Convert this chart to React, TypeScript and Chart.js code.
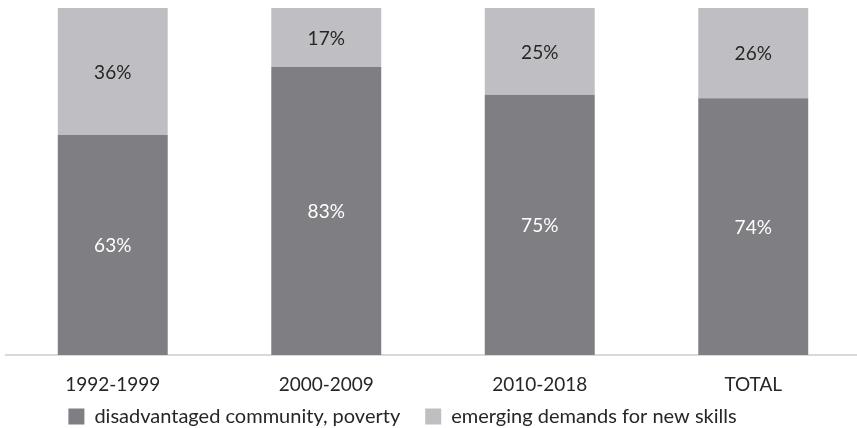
import React, { useEffect, useRef } from "react";
import { Chart, registerables } from "chart.js";

Chart.register(...registerables);

const categories = ["1992-1999", "2000-2009", "2010-2018", "TOTAL"];
const disadvantaged = [63.4, 83, 75, 74];
const emerging = [36.6, 17, 25, 26];
const seriesNames = ["disadvantaged community, poverty", "emerging demands for new skills"];

const DARK = "#7f7f83";
const LIGHT = "#bfbfc3";
const TEXT = "#262626";
const FONT = "Lato";

const valueLabels = {
  id: "valueLabels",
  afterDatasetsDraw(chart: any) {
    const ctx = chart.ctx;
    ctx.save();
    ctx.font = `19px ${FONT}`;
    ctx.textAlign = "center";
    ctx.textBaseline = "middle";
    chart.data.datasets.forEach((ds: any, di: number) => {
      const meta = chart.getDatasetMeta(di);
      ctx.fillStyle = di === 0 ? "#ffffff" : TEXT;
      meta.data.forEach((el: any, i: number) => {
        const v = ds.data[i];
        const y = (el.y + el.base) / 2;
        ctx.fillText(`${Math.floor(v)}%`, el.x, y + 1);
      });
    });
    ctx.restore();
  },
};

const customLegend = {
  id: "customLegend",
  afterDraw(chart: any) {
    const ctx = chart.ctx;
    const box = 16;
    const gap = 10;
    const itemGap = 25;
    const centerX = 402.5;
    const centerY = 416.5;
    ctx.save();
    ctx.font = `20px ${FONT}`;
    ctx.textBaseline = "middle";
    ctx.textAlign = "left";
    const items = chart.data.datasets.map((ds: any) => ({
      text: ds.label,
      color: ds.backgroundColor,
      w: ctx.measureText(ds.label).width,
    }));
    const total =
      items.reduce((s: number, it: any) => s + box + gap + it.w, 0) + itemGap * (items.length - 1);
    let x = centerX - total / 2;
    items.forEach((it: any) => {
      ctx.fillStyle = it.color;
      ctx.fillRect(x, centerY - box / 2, box, box);
      x += box + gap;
      ctx.fillStyle = TEXT;
      ctx.fillText(it.text, x, centerY);
      x += it.w + itemGap;
    });
    ctx.restore();
  },
};

export default function App() {
  const ref = useRef<HTMLCanvasElement>(null);
  useEffect(() => {
    if (!ref.current) return;
    const chart = new Chart(ref.current, {
      type: "bar",
      data: {
        labels: categories,
        datasets: [
          { label: seriesNames[0], data: disadvantaged, backgroundColor: DARK, borderWidth: 0 },
          { label: seriesNames[1], data: emerging, backgroundColor: LIGHT, borderWidth: 0 },
        ],
      },
      options: {
        responsive: false,
        animation: false,
        layout: { padding: { top: 8, left: 6, right: 0, bottom: 13 } },
        datasets: { bar: { categoryPercentage: 1, barPercentage: 0.515 } },
        plugins: {
          legend: { display: false },
          tooltip: { enabled: false },
        },
        scales: {
          x: {
            stacked: true,
            grid: { display: false, drawTicks: false },
            border: { display: true, color: "#d9d9d9", width: 2 },
            ticks: {
              padding: 18.6,
              color: TEXT,
              font: { family: FONT, size: 19, lineHeight: 1.2 },
            },
          },
          y: {
            stacked: true,
            display: false,
            min: 0,
            max: 100,
          },
        },
      },
      plugins: [valueLabels, customLegend],
    });
    return () => chart.destroy();
  }, []);
  return (
    <div style={{ position: "fixed", left: 0, top: 0, width: 857, height: 428, overflow: "hidden", background: "#fff" }}>
      <canvas ref={ref} width={860} height={428} style={{ display: "block" }} />
    </div>
  );
}
